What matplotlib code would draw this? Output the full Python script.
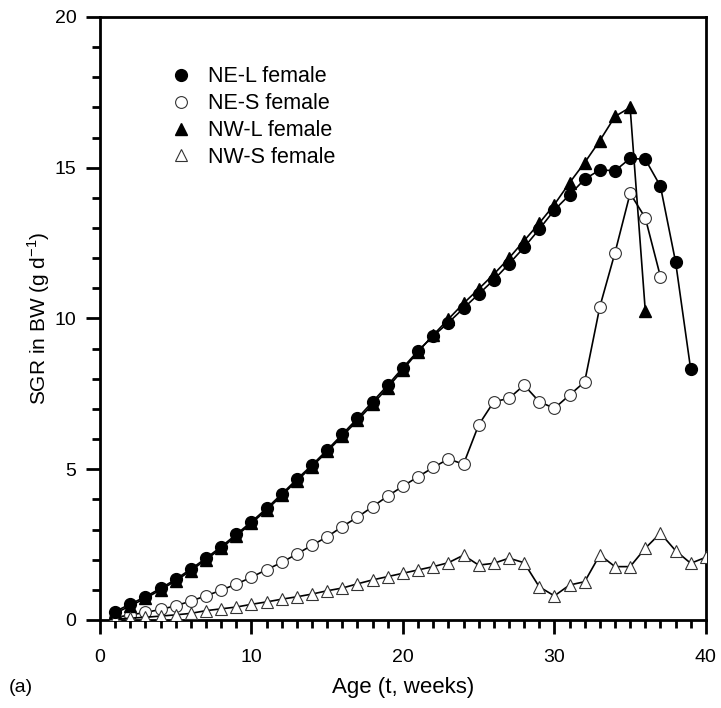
import matplotlib.pyplot as plt
from matplotlib.ticker import MultipleLocator

plt.rcParams['font.family'] = ['Liberation Sans', 'DejaVu Sans']

# Weekly specific growth rate in body weight (g/day), females
semanas_ne_l = list(range(1, 40))
sgr_ne_l = [0.28, 0.53, 0.77, 1.05, 1.35, 1.69, 2.05, 2.43, 2.84, 3.26,
            3.70, 4.18, 4.67, 5.14, 5.64, 6.16, 6.69, 7.24, 7.79, 8.37,
            8.93, 9.42, 9.86, 10.34, 10.81, 11.28, 11.81, 12.36, 12.96, 13.60,
            14.10, 14.62, 14.93, 14.90, 15.31, 15.28, 14.39, 11.88, 8.31]

semanas_ne_s = list(range(1, 38))
sgr_ne_s = [0.08, 0.17, 0.25, 0.35, 0.47, 0.63, 0.80, 0.99, 1.19, 1.42,
            1.67, 1.91, 2.19, 2.48, 2.76, 3.10, 3.41, 3.76, 4.11, 4.44,
            4.75, 5.06, 5.34, 5.17, 6.47, 7.24, 7.35, 7.79, 7.24, 7.02,
            7.46, 7.90, 10.39, 12.18, 14.15, 13.34, 11.39]

semanas_nw_l = list(range(1, 37))
sgr_nw_l = [0.22, 0.47, 0.72, 1.00, 1.30, 1.64, 2.00, 2.38, 2.79, 3.21,
            3.65, 4.13, 4.62, 5.09, 5.59, 6.10, 6.62, 7.16, 7.71, 8.30,
            8.90, 9.45, 9.98, 10.50, 10.98, 11.47, 12.00, 12.58, 13.16, 13.78,
            14.50, 15.17, 15.90, 16.70, 17.00, 10.26]

semanas_nw_s = list(range(1, 41))
sgr_nw_s = [0.03, 0.06, 0.09, 0.13, 0.17, 0.22, 0.31, 0.37, 0.43, 0.52,
            0.60, 0.69, 0.77, 0.86, 0.97, 1.06, 1.20, 1.33, 1.44, 1.55,
            1.66, 1.77, 1.90, 2.15, 1.82, 1.88, 2.05, 1.90, 1.10, 0.80,
            1.16, 1.27, 2.16, 1.77, 1.77, 2.38, 2.88, 2.30, 1.88, 2.08]

fig = plt.figure(figsize=(7.21, 7.08), dpi=100)
ax = fig.add_axes([0.1387, 0.1243, 0.8403, 0.8517])

ax.plot(semanas_ne_l, sgr_ne_l, color='black', lw=1.2, marker='o', ms=8.5,
        mfc='black', mec='black', label='NE-L female', zorder=4)
ax.plot(semanas_ne_s, sgr_ne_s, color='black', lw=1.2, marker='o', ms=8.5,
        mfc='white', mec='#333333', mew=0.8, label='NE-S female', zorder=3)
ax.plot(semanas_nw_l, sgr_nw_l, color='black', lw=1.2, marker='^', ms=8.5,
        mfc='black', mec='black', label='NW-L female', zorder=3)
ax.plot(semanas_nw_s, sgr_nw_s, color='black', lw=1.2, marker='^', ms=9,
        mfc='white', mec='#333333', mew=0.8, label='NW-S female', zorder=3)

ax.set_xlim(0, 40)
ax.set_ylim(0, 20)
ax.xaxis.set_major_locator(MultipleLocator(10))
ax.xaxis.set_minor_locator(MultipleLocator(1))
ax.yaxis.set_major_locator(MultipleLocator(5))
ax.yaxis.set_minor_locator(MultipleLocator(1))
ax.tick_params(which='major', direction='out', length=10, width=2, labelsize=14, pad=11)
ax.tick_params(which='minor', direction='out', length=6, width=2)
ax.tick_params(axis='y', which='major', pad=7)
for lado in ax.spines.values():
    lado.set_linewidth(2)

ax.set_xlabel('Age (t, weeks)', fontsize=16, labelpad=8)
ax.set_ylabel('SGR in BW (g d$^{\\mathregular{-1}}$)', fontsize=15, labelpad=2)

leg = ax.legend(loc='upper left', bbox_to_anchor=(0.09, 0.943), frameon=False,
                fontsize=15.5, handlelength=1.1, handletextpad=0.7, labelspacing=0.27,
                numpoints=1, borderpad=0.2)
for h in leg.legend_handles:
    h.set_linestyle('none')

fig.text(0.012, 0.022, '(a)', fontsize=14)

plt.savefig('out.png', dpi=100)
